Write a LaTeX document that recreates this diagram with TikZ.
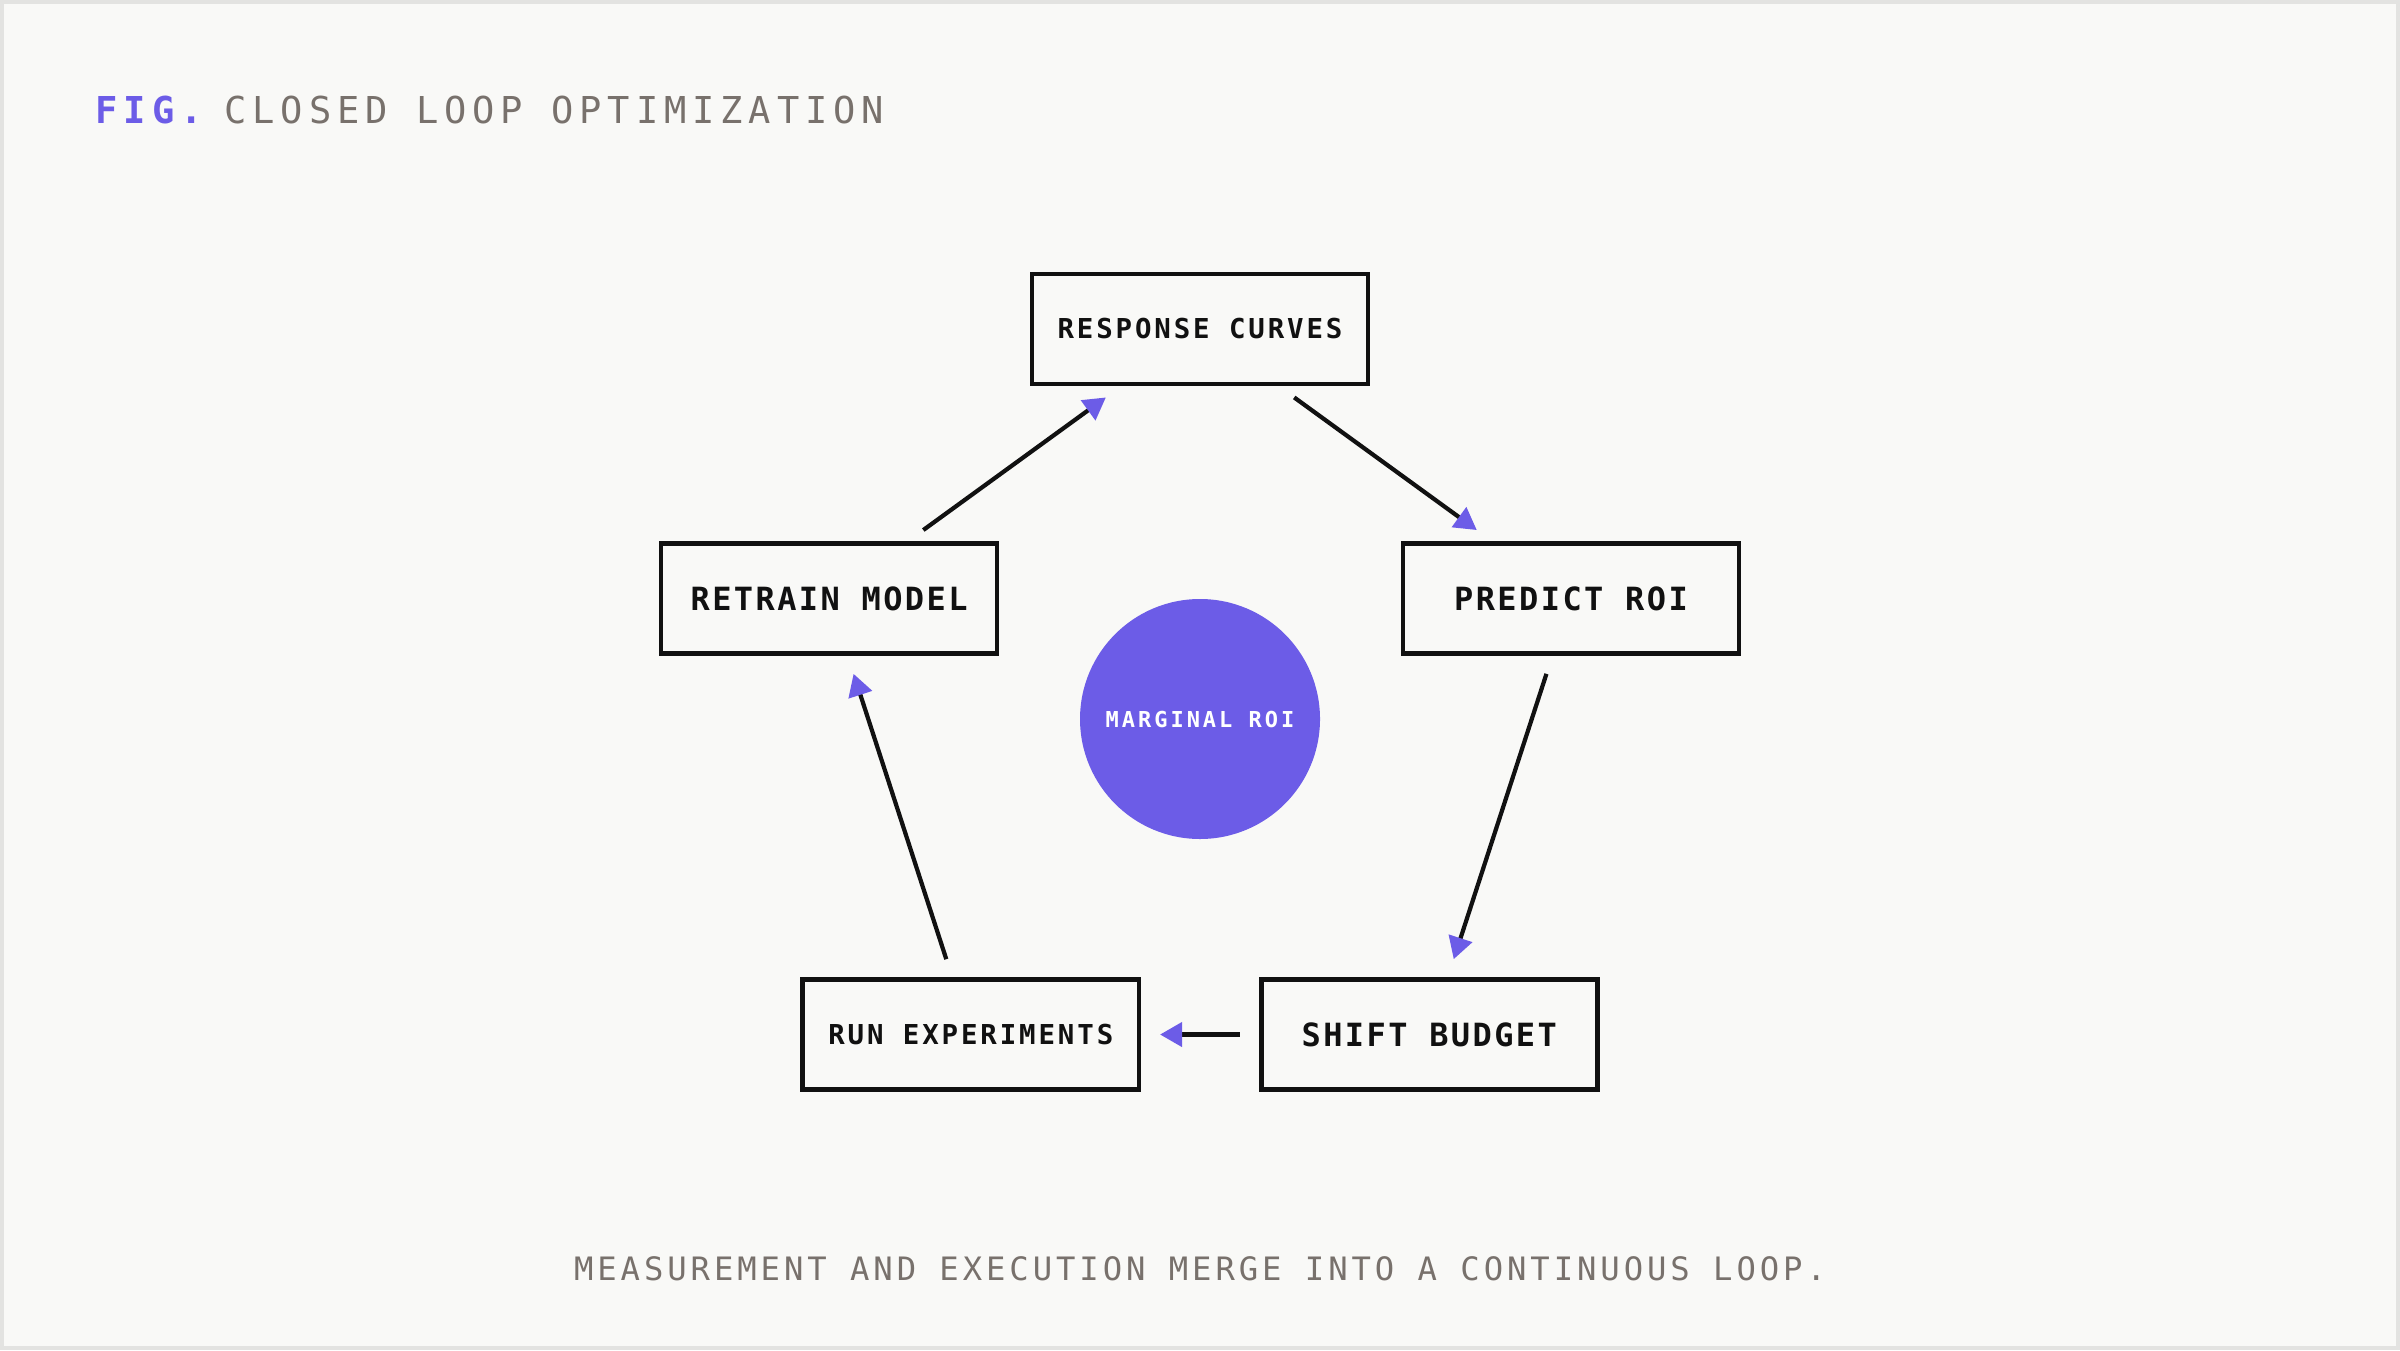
\documentclass[tikz,border=0pt]{standalone}
\usepackage{fontspec}
\usetikzlibrary{arrows.meta,calc}
\newfontfamily\titlefont[LetterSpace=16]{DejaVu Sans Mono}
\newfontfamily\notefont[LetterSpace=12.2]{DejaVu Sans Mono}
\newfontfamily\boxfont[LetterSpace=7.6]{DejaVu Sans Mono}
\newfontfamily\smallboxfont[LetterSpace=10.5]{DejaVu Sans Mono}
\newfontfamily\hubfont[LetterSpace=13.6]{DejaVu Sans Mono}
\definecolor{accent}{HTML}{6C5CE7}
\definecolor{paper}{HTML}{F9F9F7}
\definecolor{rim}{HTML}{E3E3E1}
\definecolor{ink}{HTML}{111111}
\definecolor{mute}{HTML}{78716C}
\begin{document}
\begin{tikzpicture}[x=1cm,y=1cm,
  stage/.style={draw=ink,line width=1.3pt,minimum width=3.36cm,minimum height=1.10cm,inner sep=0pt,text=ink},
  stagebig/.style={font=\boxfont\bfseries\fontsize{9.1}{11}\selectfont},
  stagesmall/.style={font=\smallboxfont\bfseries\fontsize{7.8}{9}\selectfont},
  flow/.style={draw=ink,line width=1.2pt,shorten <=1.9mm,shorten >=1.9mm,
    -{Triangle[length=2.2mm,width=2.4mm,color=accent]}}]
  \useasboundingbox (0,0) rectangle (24,13.5);
  \draw[rim,fill=paper,line width=0.04cm] (0.02,0.02) rectangle (23.98,13.48);

  % title and note
  \node[anchor=base west,inner sep=0pt,text=mute,font=\titlefont\fontsize{10.54}{12}\selectfont] (title) at (0.95,12.265)
    {{\bfseries\color{accent}FIG.}\hspace{6.2pt}CLOSED LOOP OPTIMIZATION};
  \node[anchor=base,inner sep=0pt,text=mute,font=\notefont\fontsize{9.17}{11}\selectfont] (note) at (12,0.70)
    {MEASUREMENT AND EXECUTION MERGE INTO A CONTINUOUS LOOP.};

  % hub and the five stages
  \node[circle,fill=accent,minimum size=2.4cm,inner sep=0pt,text=white,font=\hubfont\bfseries\fontsize{6.25}{8}\selectfont] (hub) at (12,6.31) {MARGINAL ROI};
  \foreach \a/\n/\s/\t in {90/resp/stagesmall/{RESPONSE CURVES},18/pred/stagebig/{PREDICT ROI},
      -54/budg/stagebig/{SHIFT BUDGET},-126/runx/stagesmall/{RUN EXPERIMENTS},162/retr/stagebig/{RETRAIN MODEL}}{
    \node[stage,\s] (\n) at ($(hub)+(\a:3.9)$) {\t};}

  \foreach \s/\e in {retr/resp,resp/pred,pred/budg,budg/runx,runx/retr}{
    \draw[flow] (\s) -- (\e);}
\end{tikzpicture}
\end{document}
